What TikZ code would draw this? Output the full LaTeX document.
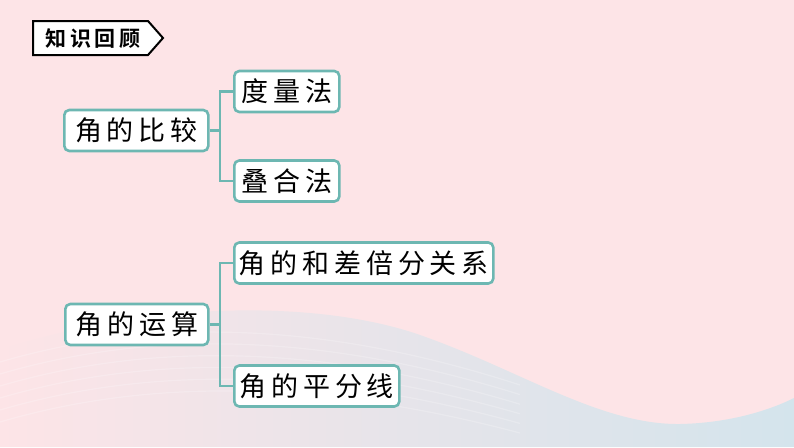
\documentclass[tikz,border=0pt]{standalone}
\usepackage{fontspec}
\newfontfamily\cjk[LetterSpace=18]{Noto Sans CJK SC}
\newfontfamily\cjktitle[LetterSpace=16]{Noto Sans CJK SC Bold}
\definecolor{bgpink}{HTML}{FDE4E7}
\definecolor{wave}{HTML}{D4E4EC}
\definecolor{teal}{HTML}{6DB7B2}
\tikzset{
  box/.style={draw=teal, line width=2.6pt, fill=white, rounded corners=5pt,
    minimum height=41pt, inner sep=0pt, anchor=west,
    font=\fontsize{27}{30}\selectfont\cjk},
  link/.style={draw=teal, line width=2.6pt},
}
\begin{document}
\begin{tikzpicture}[x=1pt,y=-1pt]
\useasboundingbox (0,0) rectangle (794,447);
\fill[bgpink] (0,0) rectangle (794,447);
% bottom wave
\shade[left color=bgpink, right color=wave, middle color=wave!55!bgpink]
  (0,447) -- (0,350) .. controls (150,300) and (320,300) .. (420,335)
  .. controls (520,370) and (600,425) .. (680,424) .. controls (730,423) and (770,410) .. (794,398) -- (794,447) -- cycle;
\foreach \d in {0,12,24,36,48,60} {
  \draw[white, opacity=0.22, line width=1.2pt] (0,362+\d) .. controls (150,318+\d) and (320,320+\d) .. (520,385+\d*0.8);
}
% title
\draw[black, line width=2pt, fill=white] (33,21) -- (148,21) -- (163,38) -- (148,55) -- (33,55) -- cycle;
\node[font=\fontsize{21}{24}\selectfont\cjktitle, inner sep=0pt] (title) at (93,38.5) {知识回顾};
% nodes
\node[box, minimum width=144pt] (cmp) at (63,130.5) {角的比较};
\node[box, minimum width=105pt] (dl) at (233,91.5) {度量法};
\node[box, minimum width=105pt] (dh) at (233,181) {叠合法};
\node[box, minimum width=143pt] (op) at (64,324.5) {角的运算};
\node[box, minimum width=259pt] (hc) at (233,263) {角的和差倍分关系};
\node[box, minimum width=165pt] (pf) at (233,386) {角的平分线};
% connectors
\coordinate (j1) at (220,130.5);
\coordinate (j2) at (220,324.5);
\draw[link] (cmp.east) -- (j1);
\draw[link] (dl.west) -| (j1) |- (dh.west);
\draw[link] (op.east) -- (j2);
\draw[link] (hc.west) -| (j2) |- (pf.west);
\end{tikzpicture}
\end{document}
